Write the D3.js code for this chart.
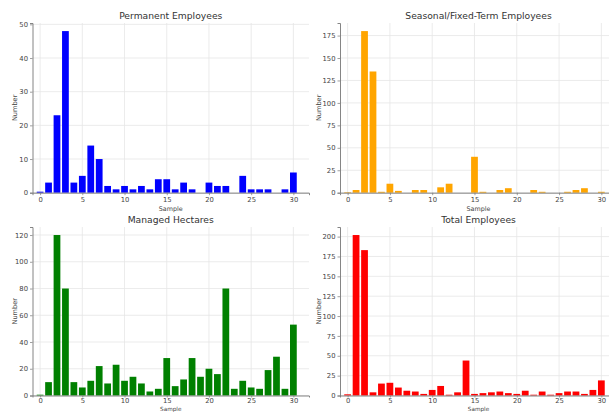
<!DOCTYPE html>
<html><head><meta charset="utf-8">
<script src="https://cdn.jsdelivr.net/npm/d3@7"></script>
<style>
html,body{margin:0;padding:0;background:#fff;}
svg{display:block;font-family:"DejaVu Sans",sans-serif;}
</style></head><body>
<svg id="c" width="609" height="412"></svg>
<script>
const samples = d3.range(0, 31);
const permanent = [0.3,3,23,48,3,5,14,10,2,1,2,1,2,1,4,4,1,3,1,0,3,2,2,0,5,1,1,1,0,1,6];
const seasonal  = [0.6,3,180,135,1,10,2,0,3,3,0,6,10,0,0,40,1,0,3,5,0,0,3,1,0,0,1,3,5,0,1];
const hectares  = [0.6,10,120,80,10,6,11,22,9,23,11,14,9,3,5,28,7,12,28,14,20,16,80,5,11,6,5,19,29,5,53];
const total     = [1.5,202,183,4,15,16,10,6,5,2,7,12,1,4,44,2,3,4,5,3,2,6,1,5,1,3,5,5,2,7,19];

const titles = ["Permanent Employees","Seasonal/Fixed-Term Employees","Managed Hectares","Total Employees"];
const colors = ["#0000ff","#ffa500","#008000","#ff0000"];
const series = [permanent, seasonal, hectares, total];
const yTicks = [[0,10,20,30,40,50],[0,25,50,75,100,125,150,175],[0,20,40,60,80,100,120],[0,25,50,75,100,125,150,175,200]];
const xTicks = [0,5,10,15,20,25,30];

const panels = [
  {x0:32.5, x1:309, y0:23, y1:192.7, yl:15,  xl:210.5, xs:6.4, ts:2.5, tp:1.5},
  {x0:340,  x1:617, y0:23, y1:192.7, yl:319, xl:210.5, xs:6.4, ts:2.5, tp:1.5},
  {x0:32.5, x1:309, y0:227, y1:395.5, yl:15,  xl:411, xs:5.7, ts:2, tp:1},
  {x0:340,  x1:617, y0:227, y1:395.5, yl:319, xl:411, xs:5.7, ts:2, tp:1}
];

const svg = d3.select("#c");

panels.forEach((p, i) => {
  const vals = series[i];
  const x = d3.scaleLinear().domain([-0.9, 31.85]).range([p.x0, p.x1]);
  const y = d3.scaleLinear().domain([0, d3.max(vals) * 1.05]).range([p.y1, p.y0]);
  const g = svg.append("g");

  // grid
  g.selectAll(".vg").data(xTicks).enter().append("line")
    .attr("x1", d => x(d)).attr("x2", d => x(d))
    .attr("y1", p.y0).attr("y2", p.y1)
    .attr("stroke", "#e6e6e6").attr("stroke-width", 0.8);
  g.selectAll(".hg").data(yTicks[i]).enter().append("line")
    .attr("x1", p.x0).attr("x2", p.x1)
    .attr("y1", d => y(d)).attr("y2", d => y(d))
    .attr("stroke", "#e6e6e6").attr("stroke-width", 0.8);

  // bars
  g.selectAll(".bar").data(samples).enter().append("rect")
    .attr("x", d => x(d - 0.4))
    .attr("width", x(0.8) - x(0))
    .attr("y", d => y(vals[d]))
    .attr("height", d => y(0) - y(vals[d]))
    .attr("fill", colors[i]);

  // axes
  const xa = g.append("g").attr("transform", `translate(0,${p.y1})`)
    .call(d3.axisBottom(x).tickValues(xTicks).tickSize(p.ts).tickPadding(p.tp));
  const ya = g.append("g").attr("transform", `translate(${p.x0},0)`)
    .call(d3.axisLeft(y).tickValues(yTicks[i]).tickSize(2.5).tickPadding(2));
  [xa, ya].forEach(a => {
    a.select(".domain").attr("stroke", "#777").attr("stroke-width", 0.9);
    a.selectAll(".tick line").attr("stroke", "#777").attr("stroke-width", 0.7);
    a.selectAll(".tick text").attr("fill", "#444").style("font-size", "6.8px").style("font-family", "DejaVu Sans");
  });

  // title
  svg.append("text").attr("x", (p.x0 + p.x1) / 2).attr("y", p.y0 - 4)
    .attr("text-anchor", "middle").attr("fill", "#333")
    .style("font-size", "9.2px").text(titles[i]);
  // y label
  svg.append("text")
    .attr("transform", `translate(${p.yl + 2.3},${(p.y0 + p.y1) / 2}) rotate(-90)`)
    .attr("text-anchor", "middle").attr("fill", "#444")
    .style("font-size", "6.6px").text("Number");
  // x label
  svg.append("text").attr("x", (p.x0 + p.x1) / 2).attr("y", p.xl)
    .attr("text-anchor", "middle").attr("fill", "#444")
    .style("font-size", p.xs + "px").text("Sample");
});
</script>
</body></html>
